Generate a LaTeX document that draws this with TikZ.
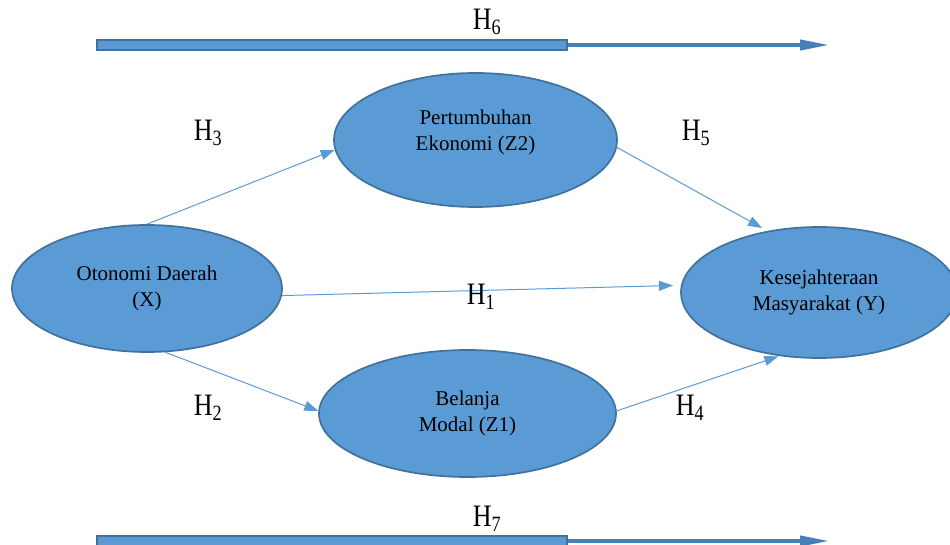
\documentclass[tikz,border=0pt]{standalone}
\usepackage{fontspec}
\setmainfont{Liberation Serif}
\usetikzlibrary{shapes.geometric,arrows.meta}
\definecolor{fillblue}{HTML}{5B9BD5}
\definecolor{edgeblue}{HTML}{41719C}
\definecolor{shaftblue}{HTML}{4A7EBB}
\newcommand\hyplabel[1]{\scalebox{1}[1.2]{H\textsubscript{#1}}}
\begin{document}
\begin{tikzpicture}[x=1pt,y=-1pt,
  var/.style={ellipse, fill=fillblue, draw=edgeblue, line width=1.7pt,
    align=center, inner sep=0pt, font=\fontsize{21}{26}\selectfont},
  conn/.style={draw=fillblue, line width=1pt,
    -{Triangle[length=14pt,width=10pt,fill=fillblue]}},
  bar/.style={fill=fillblue, draw=edgeblue, line width=1.2pt},
  shaft/.style={draw=shaftblue, line width=4pt,
    -{Triangle[length=30pt,width=10pt,fill=shaftblue]}},
  hyp/.style={font=\fontsize{26}{26}\selectfont, inner sep=0pt}]
\useasboundingbox (0,0) rectangle (950,545);

% variables
\node[var, minimum width=270pt, minimum height=127pt] (X) at (147,288.5)
  {Otonomi Daerah\\(X)};
\node[var, minimum width=283pt, minimum height=134pt] (Z2) at (475.5,140)
  {Pertumbuhan\\Ekonomi (Z2)\\[-6pt]\mbox{}};
\node[var, minimum width=297pt, minimum height=127pt] (Z1) at (467.5,413.5)
  {Belanja\\Modal (Z1)};
\node[var, minimum width=276pt, minimum height=131pt] (Y) at (819,292.5)
  {Kesejahteraan\\Masyarakat (Y)};

% paths
\draw[conn] (X.north) -- (Z2.184);
\draw[conn, shorten >=6pt] (Z2.-3) -- (Y.130);
\draw[conn, shorten >=8pt] (X.-3) -- (Y.177);
\draw[conn] (X.-74) -- (Z1.179);
\draw[conn, shorten >=1pt] (Z1.1) -- (Y.-122);

% hypothesis labels
\node[hyp] (h1) at (481,297) {\hyplabel{1}};
\node[hyp] (h2) at (208,408) {\hyplabel{2}};
\node[hyp] (h3) at (208,133) {\hyplabel{3}};
\node[hyp] (h4) at (690,408) {\hyplabel{4}};
\node[hyp] (h5) at (696,133) {\hyplabel{5}};
\node[hyp] (h6) at (487,22) {\hyplabel{6}};
\node[hyp] (h7) at (487,519) {\hyplabel{7}};

% top bar arrow (H6)
\coordinate (t0) at (567,45);
\coordinate (t1) at (830,45);
\draw[shaft] (t0) -- (t1);
\draw[bar] (97,40) rectangle (567,50);

% bottom bar arrow (H7)
\coordinate (b0) at (567,541);
\coordinate (b1) at (830,541);
\draw[shaft] (b0) -- (b1);
\draw[bar] (97,536) rectangle (567,547);
\end{tikzpicture}
\end{document}
